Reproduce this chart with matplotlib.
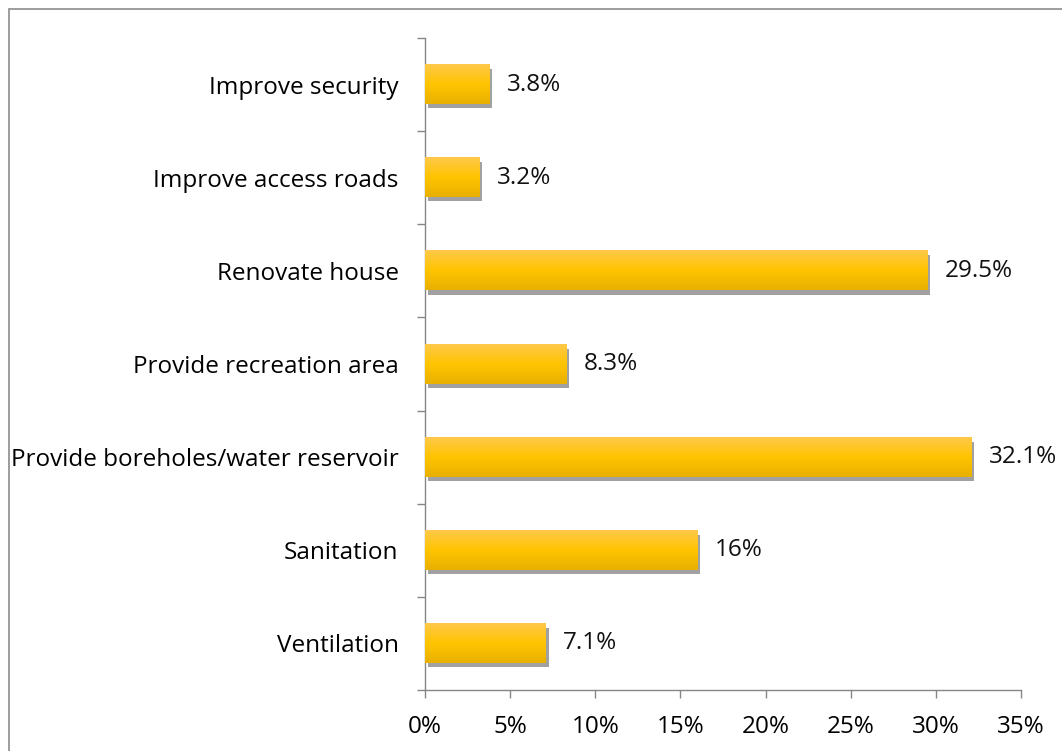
import matplotlib.pyplot as plt
import matplotlib.patheffects as pe
from matplotlib.patches import Rectangle
from matplotlib.colors import LinearSegmentedColormap
import numpy as np

categories = ["Ventilation", "Sanitation", "Provide boreholes/water reservoir",
              "Provide recreation area", "Renovate house", "Improve access roads",
              "Improve security"]
values = [7.1, 16, 32.1, 8.3, 29.5, 3.2, 3.8]
labels = ["7.1%", "16%", "32.1%", "8.3%", "29.5%", "3.2%", "3.8%"]
xticks = [0, 5, 10, 15, 20, 25, 30, 35]

plt.rcParams['font.family'] = ['Open Sans', 'DejaVu Sans']
fs = 17.5

fig = plt.figure(figsize=(10.62, 7.51), dpi=100)
ax = fig.add_axes([0.4002, 0.0813, 0.5612, 0.8681])

# outer border of the chart area
fig.patches.append(Rectangle((9 / 1062, -0.2), 1.2, 1.2 - 9 / 751, transform=fig.transFigure,
                             fill=False, edgecolor='#8c8c8c', linewidth=1.2))

grad = LinearSegmentedColormap.from_list("gold", ["#e8b000", "#ffc400", "#ffc84a"])
h = 0.42
y = np.arange(len(categories))
for yi, v in zip(y, values):
    ax.barh(yi, v, height=h, color='#ffc400', zorder=2,
            path_effects=[pe.SimplePatchShadow(offset=(2, -3), shadow_rgbFace='#7a7a7a', alpha=0.7),
                          pe.Normal()])
    img = np.linspace(0, 1, 50).reshape(-1, 1)
    ax.imshow(img, cmap=grad, aspect='auto', origin='lower',
              extent=(0, v, yi - h / 2, yi + h / 2), zorder=3)

for yi, v, lab in zip(y, values, labels):
    ax.text(v + 1.0, yi, lab, va='center', ha='left', fontsize=fs, color='#111111')

ax.set_xlim(0, 35)
ax.set_ylim(-0.5, len(categories) - 0.5)
ax.set_xticks(xticks)
ax.set_xticklabels([f"{t}%" for t in xticks], fontsize=fs)
ax.set_yticks(y)
ax.set_yticklabels(categories, fontsize=fs)
ax.set_yticks(np.arange(-0.5, len(categories), 1), minor=True)
ax.tick_params(axis='y', which='major', length=0, pad=19)
ax.tick_params(axis='y', which='minor', length=6, color='#868686', width=1)
ax.tick_params(axis='x', length=6, color='#868686', width=1, pad=12)
for s in ['top', 'right']:
    ax.spines[s].set_visible(False)
for s in ['left', 'bottom']:
    ax.spines[s].set_color('#868686')
    ax.spines[s].set_linewidth(1)

fig.savefig("out.png", dpi=100)
